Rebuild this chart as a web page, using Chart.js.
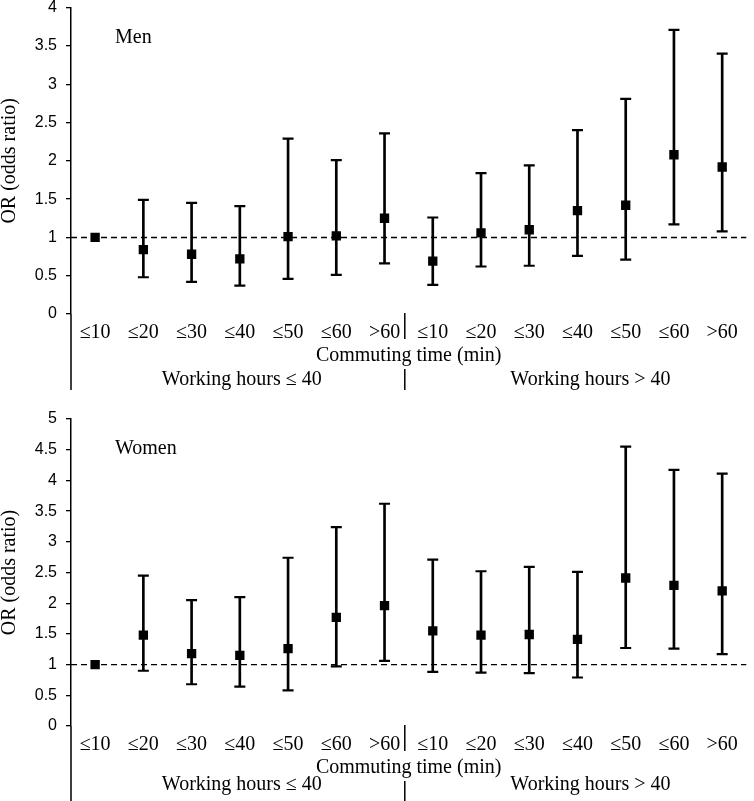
<!DOCTYPE html>
<html>
<head>
<meta charset="utf-8">
<script src="https://cdn.jsdelivr.net/npm/chart.js@4.4.1/dist/chart.umd.min.js"></script>
<style>
  html, body { margin: 0; padding: 0; background: #fff; }
  canvas { display: block; }
</style>
</head>
<body>
<canvas id="men" width="754" height="400"></canvas>
<canvas id="women" width="754" height="401"></canvas>
<script>
// ---- data ----
const categories = ['≤10','≤20','≤30','≤40','≤50','≤60','>60','≤10','≤20','≤30','≤40','≤50','≤60','>60'];
const groupLabels = ['Working hours ≤ 40', 'Working hours > 40'];
const xTitle = 'Commuting time (min)';
const yTitle = 'OR (odds ratio)';
const referenceOR = 1;

const menOR    = [1.00, 0.84, 0.78, 0.72, 1.01, 1.02, 1.25, 0.69, 1.06, 1.10, 1.35, 1.42, 2.08, 1.92];
const menLower = [null, 0.48, 0.42, 0.37, 0.46, 0.51, 0.66, 0.38, 0.62, 0.63, 0.76, 0.71, 1.17, 1.08];
const menUpper = [null, 1.49, 1.45, 1.41, 2.29, 2.01, 2.36, 1.26, 1.84, 1.94, 2.40, 2.81, 3.71, 3.40];
const menYMax = 4;

const womenOR    = [1.00, 1.48, 1.18, 1.15, 1.26, 1.77, 1.96, 1.55, 1.48, 1.49, 1.41, 2.41, 2.29, 2.20];
const womenLower = [null, 0.90, 0.68, 0.64, 0.58, 0.97, 1.06, 0.88, 0.87, 0.86, 0.79, 1.27, 1.26, 1.17];
const womenUpper = [null, 2.45, 2.05, 2.10, 2.74, 3.24, 3.62, 2.71, 2.52, 2.59, 2.51, 4.55, 4.17, 4.11];
const womenYMax = 5;
const yStep = 0.5;

const SERIF = "'Liberation Serif', 'Times New Roman', serif";
const SANS = "'Liberation Sans', Arial, sans-serif";

function makeChart(id, title, orVals, lo, hi, yMax, opt) {
  const ranges = lo.map((l, i) => (l == null ? null : [l, hi[i]]));

  const decor = {
    id: 'decor',
    beforeDatasetsDraw(chart) {
      const {ctx, chartArea: a, scales: {y}} = chart;
      const py = y.getPixelForValue(referenceOR);
      ctx.save();
      ctx.strokeStyle = '#000';
      ctx.lineWidth = 1.4;
      ctx.setLineDash([6, 4]);
      ctx.beginPath();
      ctx.moveTo(a.left, py);
      ctx.lineTo(a.right, py);
      ctx.stroke();
      ctx.restore();
    },
    afterDraw(chart) {
      const {ctx, chartArea: a, scales: {x}} = chart;
      ctx.save();
      ctx.strokeStyle = '#000';
      ctx.lineWidth = 1.5;
      // y-axis extension below plot
      ctx.beginPath();
      ctx.moveTo(a.left, a.bottom);
      ctx.lineTo(a.left, a.bottom + 76);
      ctx.stroke();
      // group divider
      const p6 = x.getPixelForValue(6), p7 = x.getPixelForValue(7);
      const dx = p6 + 0.42 * (p7 - p6);
      ctx.beginPath();
      ctx.moveTo(dx, a.bottom - 1);
      ctx.lineTo(dx, a.bottom + 25);
      ctx.moveTo(dx, a.bottom + 55);
      ctx.lineTo(dx, a.bottom + 76);
      ctx.stroke();
      // group labels
      ctx.fillStyle = '#000';
      ctx.font = '20px ' + SERIF;
      ctx.textAlign = 'center';
      ctx.textBaseline = 'middle';
      ctx.fillText(groupLabels[0], x.getPixelForValue(3) + 2, a.bottom + opt.groupDy);
      ctx.fillText(groupLabels[1], x.getPixelForValue(10) + 13, a.bottom + opt.groupDy);
      // panel title
      ctx.textAlign = 'left';
      ctx.fillText(title, a.left + 44, a.top + 30);
      ctx.restore();
    }
  };

  return new Chart(document.getElementById(id), {
    type: 'bar',
    data: {
      labels: categories,
      datasets: [
        { type: 'bar', data: ranges, backgroundColor: '#000', borderWidth: 0, barThickness: 2, order: 3 },
        { type: 'line', data: hi, showLine: false, pointStyle: 'line', pointRadius: 5.5,
          pointBorderWidth: 2.2, pointBorderColor: '#000', pointBackgroundColor: '#000', order: 2 },
        { type: 'line', data: lo, showLine: false, pointStyle: 'line', pointRadius: 5.5,
          pointBorderWidth: 2.2, pointBorderColor: '#000', pointBackgroundColor: '#000', order: 2 },
        { type: 'line', data: orVals, showLine: false, pointStyle: 'rect', pointRadius: 6.6,
          pointBorderWidth: 0, pointBackgroundColor: '#000', pointBorderColor: '#000', order: 1 }
      ]
    },
    options: {
      responsive: false,
      animation: false,
      devicePixelRatio: 1,
      layout: { padding: { top: opt.top, right: 1, left: 0, bottom: 0 } },
      plugins: { legend: { display: false }, tooltip: { enabled: false } },
      scales: {
        x: {
          type: 'category',
          offset: true,
          grid: { display: false, drawTicks: false },
          border: { display: false },
          ticks: { color: '#000', font: { family: SERIF, size: 20 }, padding: 7, maxRotation: 0, autoSkip: false },
          title: { display: true, text: xTitle, color: '#000', font: { family: SERIF, size: 20, lineHeight: 1.2 },
                   padding: { top: 0, bottom: opt.titlePad } },
          afterFit(s) { s.height = opt.xHeight; s.paddingLeft = 0; s.paddingRight = 0; }
        },
        y: {
          min: 0, max: yMax,
          ticks: { stepSize: yStep, color: '#000', font: { family: SANS, size: 16 }, padding: 9,
                   callback: (v) => String(Math.round(v * 10) / 10) },
          grid: { display: true, drawOnChartArea: false, drawTicks: true, tickLength: 5, color: '#000', lineWidth: 1.3 },
          border: { display: true, color: '#000', width: 1.5 },
          title: { display: true, text: yTitle, color: '#000', font: { family: SERIF, size: 20, lineHeight: 1 },
                   padding: { top: 0, bottom: 0 } },
          afterFit(s) { s.width = 71; s.paddingTop = 0; s.paddingBottom = 0; }
        }
      }
    },
    plugins: [decor]
  });
}

makeChart('men', 'Men', menOR, menLower, menUpper, menYMax,
  { top: 6, xHeight: 86, titlePad: 32, groupDy: 65.3 });
makeChart('women', 'Women', womenOR, womenLower, womenUpper, womenYMax,
  { top: 19, xHeight: 75, titlePad: 21, groupDy: 58.5 });
</script>
</body>
</html>
